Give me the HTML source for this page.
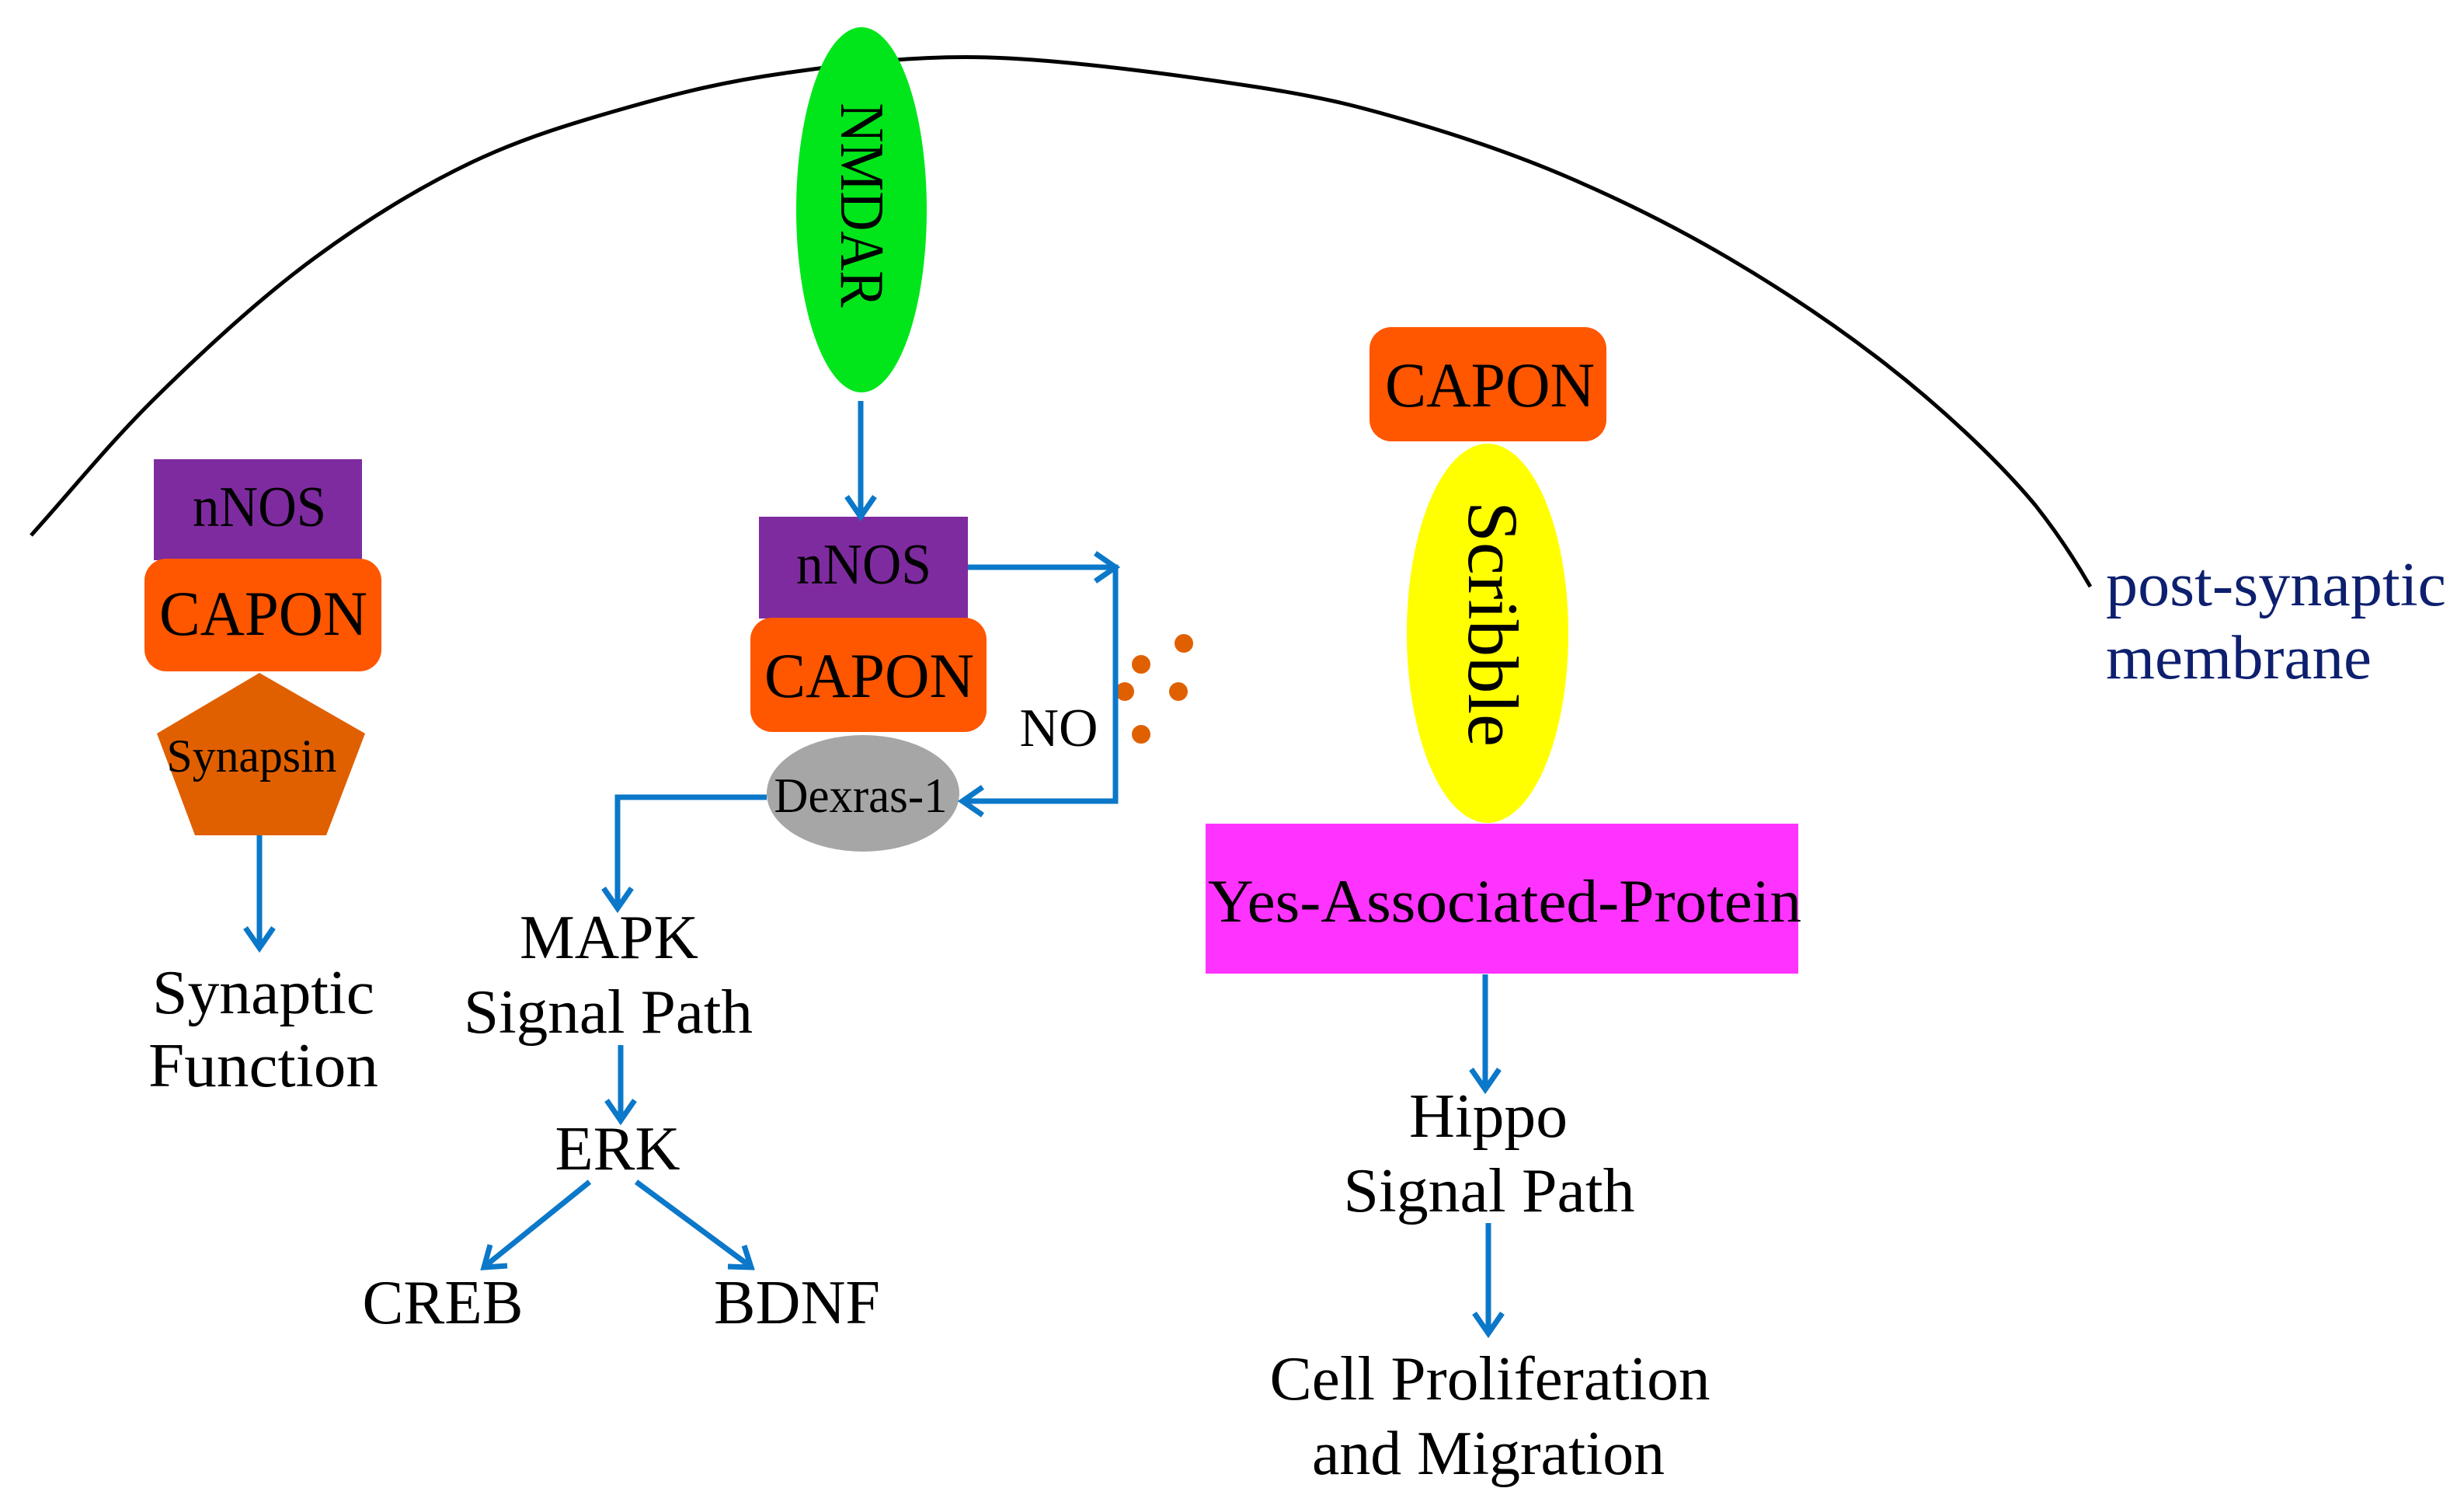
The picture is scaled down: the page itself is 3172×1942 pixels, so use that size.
<!DOCTYPE html>
<html><head><meta charset="utf-8"><style>
html,body{margin:0;padding:0;background:#fff}
svg{display:block}
text{font-family:"Liberation Serif","Times New Roman",serif;fill:#000}
</style></head><body>
<svg width="3172" height="1942" viewBox="0 0 3172 1942" xmlns="http://www.w3.org/2000/svg">
<path d="M40,689 C94,629 141,570 202,510 C263,450 337,382 405,332 C473,282 540,241 607,209 C674,177 742,157 809,138 C876,119 933,105 1011,94 C1089,83 1173,71 1274,74 C1375,77 1527,98 1618,112 C1709,126 1753,138 1821,158 C1889,178 1956,201 2023,230 C2090,259 2157,292 2225,332 C2293,372 2360,416 2428,469 C2496,522 2570,590 2620,650 C2650,688 2672,722 2691,755" fill="none" stroke="#000" stroke-width="5"/>
<ellipse cx="1109" cy="270" rx="84" ry="235" fill="#00e61a"/>
<text x="1109" y="264" font-size="80" text-anchor="middle" dominant-baseline="central" transform="rotate(90 1109 264)" textLength="263" lengthAdjust="spacingAndGlyphs">NMDAR</text>
<rect x="198" y="591" width="268" height="130" fill="#7f2ba0"/>
<text x="334" y="677" font-size="74" text-anchor="middle" textLength="172" lengthAdjust="spacingAndGlyphs">nNOS</text>
<rect x="186" y="719" width="305" height="145" rx="28" fill="#ff5600"/>
<text x="339" y="817" font-size="82" text-anchor="middle" textLength="268" lengthAdjust="spacingAndGlyphs">CAPON</text>
<polygon points="334,866 470,944 420,1075 251,1075 202,944" fill="#e06000"/>
<text x="324" y="993" font-size="60" text-anchor="middle" textLength="219" lengthAdjust="spacingAndGlyphs">Synapsin</text>
<rect x="977" y="665" width="269" height="131" fill="#7f2ba0"/>
<text x="1112" y="751" font-size="74" text-anchor="middle" textLength="174" lengthAdjust="spacingAndGlyphs">nNOS</text>
<rect x="966" y="795" width="304" height="147" rx="28" fill="#ff5600"/>
<text x="1119" y="897" font-size="82" text-anchor="middle" textLength="270" lengthAdjust="spacingAndGlyphs">CAPON</text>
<ellipse cx="1111" cy="1021" rx="124" ry="75" fill="#a6a6a6"/>
<text x="1108" y="1045" font-size="64" text-anchor="middle" textLength="223" lengthAdjust="spacingAndGlyphs">Dexras-1</text>
<text x="1363" y="960" font-size="70" text-anchor="middle" textLength="101" lengthAdjust="spacingAndGlyphs">NO</text>
<g fill="#e06000"><circle cx="1524" cy="828" r="12"/><circle cx="1469" cy="855" r="12"/><circle cx="1448" cy="890" r="12"/><circle cx="1517" cy="890" r="12"/><circle cx="1469" cy="945" r="12"/></g>
<rect x="1763" y="421" width="305" height="147" rx="28" fill="#ff5600"/>
<text x="1918" y="523" font-size="82" text-anchor="middle" textLength="270" lengthAdjust="spacingAndGlyphs">CAPON</text>
<ellipse cx="1915" cy="815" rx="104" ry="244" fill="#ffff00"/>
<text x="1922" y="803" font-size="92" text-anchor="middle" dominant-baseline="central" transform="rotate(90 1922 803)" textLength="316" lengthAdjust="spacingAndGlyphs">Scribble</text>
<rect x="1552" y="1060" width="763" height="193" fill="#ff33ff"/>
<text x="1937" y="1186" font-size="78" text-anchor="middle" textLength="764" lengthAdjust="spacingAndGlyphs">Yes-Associated-Protein</text>
<text x="2711" y="779" font-size="80" style="fill:#0d1f6e" textLength="438" lengthAdjust="spacingAndGlyphs">post-synaptic</text>
<text x="2711" y="873" font-size="80" style="fill:#0d1f6e" textLength="342" lengthAdjust="spacingAndGlyphs">membrane</text>
<g font-size="80" text-anchor="middle">
<text x="339" y="1304" textLength="286" lengthAdjust="spacingAndGlyphs">Synaptic</text>
<text x="339" y="1398" textLength="296" lengthAdjust="spacingAndGlyphs">Function</text>
<text x="784" y="1233" textLength="230" lengthAdjust="spacingAndGlyphs">MAPK</text>
<text x="783" y="1329" textLength="372" lengthAdjust="spacingAndGlyphs">Signal Path</text>
<text x="795" y="1505" textLength="161" lengthAdjust="spacingAndGlyphs">ERK</text>
<text x="570" y="1703" textLength="207" lengthAdjust="spacingAndGlyphs">CREB</text>
<text x="1026" y="1703" textLength="214" lengthAdjust="spacingAndGlyphs">BDNF</text>
<text x="1916" y="1463" textLength="204" lengthAdjust="spacingAndGlyphs">Hippo</text>
<text x="1917" y="1559" textLength="375" lengthAdjust="spacingAndGlyphs">Signal Path</text>
<text x="1918" y="1801" textLength="567" lengthAdjust="spacingAndGlyphs">Cell Proliferation</text>
<text x="1916" y="1897" textLength="454" lengthAdjust="spacingAndGlyphs">and Migration</text>
</g>
<g fill="none" stroke="#0b78c9" stroke-width="7" stroke-linejoin="miter">
<line x1="334" y1="1075" x2="334" y2="1218"/><polyline points="316,1194 334,1220 352,1194"/>
<line x1="1108" y1="516" x2="1108" y2="663"/><polyline points="1090,639 1108,665 1126,639"/>
<polyline points="1246,730 1436,730 1436,1031 1242,1031"/>
<polyline points="1410,712 1436,730 1410,748"/>
<polyline points="1265,1013 1239,1031 1265,1049"/>
<polyline points="987,1026 795,1026 795,1167"/><polyline points="777,1143 795,1169 813,1143"/>
<line x1="799" y1="1345" x2="799" y2="1440"/><polyline points="781,1416 799,1442 817,1416"/>
<line x1="759" y1="1521" x2="625" y2="1629"/><polyline points="653,1629 623,1631 631,1602"/>
<line x1="819" y1="1521" x2="965" y2="1629"/><polyline points="958,1603 967,1631 937,1630"/>
<line x1="1912" y1="1254" x2="1912" y2="1400"/><polyline points="1894,1376 1912,1402 1930,1376"/>
<line x1="1916" y1="1574" x2="1916" y2="1714"/><polyline points="1898,1690 1916,1716 1934,1690"/>
</g>
</svg>
</body></html>
